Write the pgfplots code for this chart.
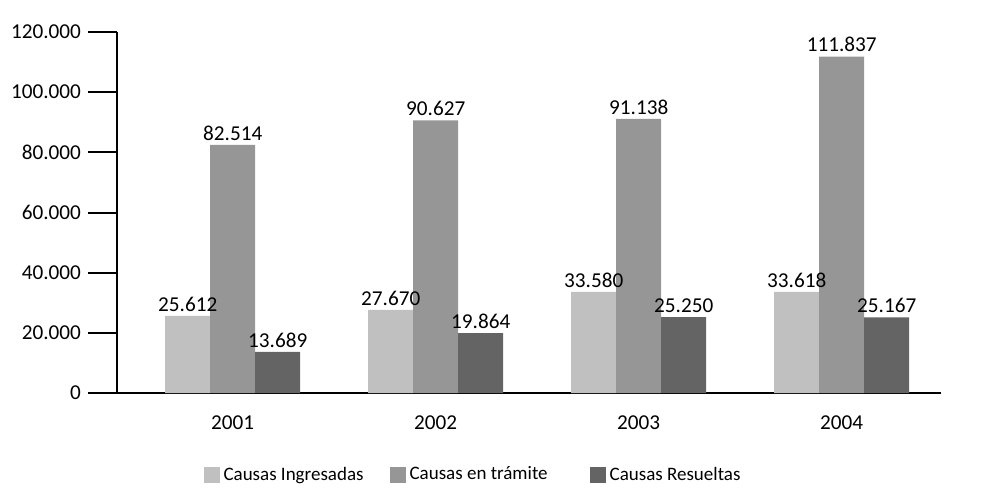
\documentclass[border=0pt]{standalone}
\usepackage{fontspec}
\setmainfont{Carlito}
\usepackage{pgfplots}
\pgfplotsset{compat=1.18}

\definecolor{ingresadas}{RGB}{192,192,192}
\definecolor{tramite}{RGB}{150,150,150}
\definecolor{resueltas}{RGB}{100,100,100}

\begin{document}
\begin{tikzpicture}[font=\fontsize{10.6}{12}\selectfont]
\begin{axis}[
    name=ax,
    x=101.5pt, height=180.5pt, scale only axis,
    ybar=0pt, bar width=22.5pt,
    xmin=-0.57, xmax=3.49,
    ymin=0, ymax=120000,
    xtick={0,1,2,3},
    xticklabels={2001,2002,2003,2004},
    xtick style={draw=none},
    xticklabel style={yshift=6.5pt},
    ytick={0,20000,40000,60000,80000,100000,120000},
    scaled y ticks=false,
    axis x line=bottom, axis y line=left,
    axis line style={line width=1pt, -},
    tick align=outside, major tick length=14.5pt,
    ytick style={line width=1pt, black},
    /pgf/number format/.cd, assume math mode=true, 1000 sep={.}, fixed, precision=0,
    /pgfplots/.cd,
    nodes near coords,
    nodes near coords style={font=\fontsize{10.6}{12}\selectfont, anchor=south, inner sep=2pt},
    every axis plot/.append style={draw=none},
    legend columns=3,
    legend style={draw=none, at={(0.1045,-0.227)}, anchor=west, inner sep=0pt,
        font=\fontsize{9.5}{11}\selectfont,
        nodes={inner sep=2pt},
        column sep=0pt,
        /tikz/column 2/.style={column sep=11pt},
        /tikz/column 4/.style={column sep=19pt}},
    legend image code/.code={\fill[#1] (0pt,-4pt) rectangle (8pt,4pt);},
    clip=false,
]
\addplot[fill=ingresadas] coordinates {(0,25612) (1,27670) (2,33580) (3,33618)};
\addlegendentry{Causas Ingresadas}
\addplot[fill=tramite] coordinates {(0,82514) (1,90627) (2,91138) (3,111837)};
\addlegendentry{Causas en trámite}
\addplot[fill=resueltas] coordinates {(0,13689) (1,19864) (2,25250) (3,25167)};
\addlegendentry{Causas Resueltas}
\end{axis}
\path ([shift={(-58.5pt,-47.5pt)}]ax.south west) rectangle ([shift={(435pt,196.5pt)}]ax.south west);
\end{tikzpicture}
\end{document}
